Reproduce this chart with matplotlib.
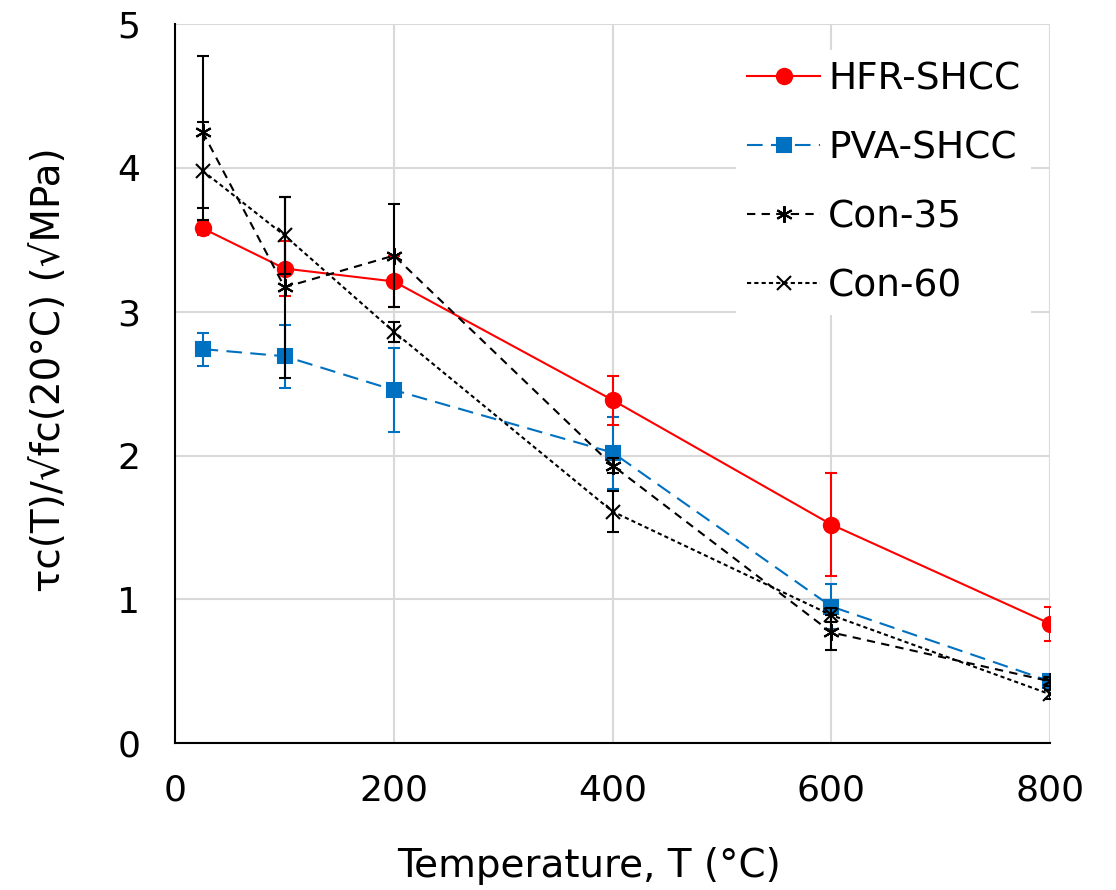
"""
Bond strength ratio vs temperature for HFR-SHCC, PVA-SHCC and concrete
"""

import matplotlib.pyplot as plt

temps = [25, 100, 200, 400, 600, 800]

hfr_vals = [3.58, 3.30, 3.21, 2.385, 1.52, 0.83]
hfr_err = [0.05, 0.19, 0.18, 0.17, 0.36, 0.12]

pva_vals = [2.74, 2.69, 2.455, 2.02, 0.95, 0.43]
pva_err = [0.115, 0.22, 0.29, 0.25, 0.155, 0.04]

con35_vals = [4.25, 3.17, 3.39, 1.93, 0.77, 0.43]
con35_err = [0.53, 0.63, 0.36, 0.05, 0.12, 0.03]

con60_vals = [3.98, 3.53, 2.86, 1.61, 0.89, 0.34]
con60_err = [0.34, 0.27, 0.07, 0.14, 0.05, 0.03]

x_ticks = [0, 200, 400, 600, 800]
y_ticks = [0, 1, 2, 3, 4, 5]

plt.rcParams['font.family'] = ['DejaVu Sans']
FS = 26

fig = plt.figure(figsize=(11.16, 8.9), dpi=100)
ax = fig.add_axes([0.157, 0.165, 0.784, 0.808])

series = [
    ('HFR-SHCC', hfr_vals, hfr_err, '#FF0000', '-', 'o', 11, 4),
    ('PVA-SHCC', pva_vals, pva_err, '#0070C0', (0, (7.5, 4)), 's', 10, 3),
    ('Con-35', con35_vals, con35_err, 'black', (0, (4, 3)), (6, 2, 0), 12, 5),
    ('Con-60', con60_vals, con60_err, 'black', (0, (2, 1.5)), 'x', 10, 5),
]

for name, vals, err, col, ls, mk, ms, z in series:
    # error bars drawn separately so the legend only shows line + marker
    ax.errorbar(temps, vals, yerr=err, fmt='none', ecolor=col,
                elinewidth=1.5, capsize=4, capthick=1.5, zorder=z)
    ax.plot(temps, vals, color=col, linestyle=ls, linewidth=1.5,
            marker=mk, markersize=ms, markeredgewidth=1.5, label=name, zorder=z)

ax.set_xlim(0, 800)
ax.set_ylim(0, 5)
ax.set_xticks(x_ticks)
ax.set_yticks(y_ticks)
ax.tick_params(axis='x', length=0, labelsize=FS, pad=22)
ax.tick_params(axis='y', length=0, labelsize=FS, pad=25)
ax.grid(True, color='#D9D9D9', linewidth=1.5, zorder=0)
ax.set_axisbelow(True)

for side in ['top', 'right']:
    ax.spines[side].set_visible(False)
for side in ['left', 'bottom']:
    ax.spines[side].set_linewidth(1.5)

ax.set_xlabel('Temperature, T (°C)', fontsize=28)
ax.xaxis.set_label_coords(0.473, -0.145)
ax.set_ylabel('τc(T)/√fc(20°C) (√MPa)', fontsize=28)
ax.yaxis.set_label_coords(-0.122, 0.52)

leg = ax.legend(loc='upper right', bbox_to_anchor=(1.0, 0.99), fontsize=27,
                frameon=True, framealpha=1, edgecolor='white', fancybox=False,
                handlelength=1.95, handletextpad=0.2, labelspacing=0.88,
                borderpad=0.3)
leg.get_frame().set_linewidth(0)

fig.savefig('out.png', dpi=100)
